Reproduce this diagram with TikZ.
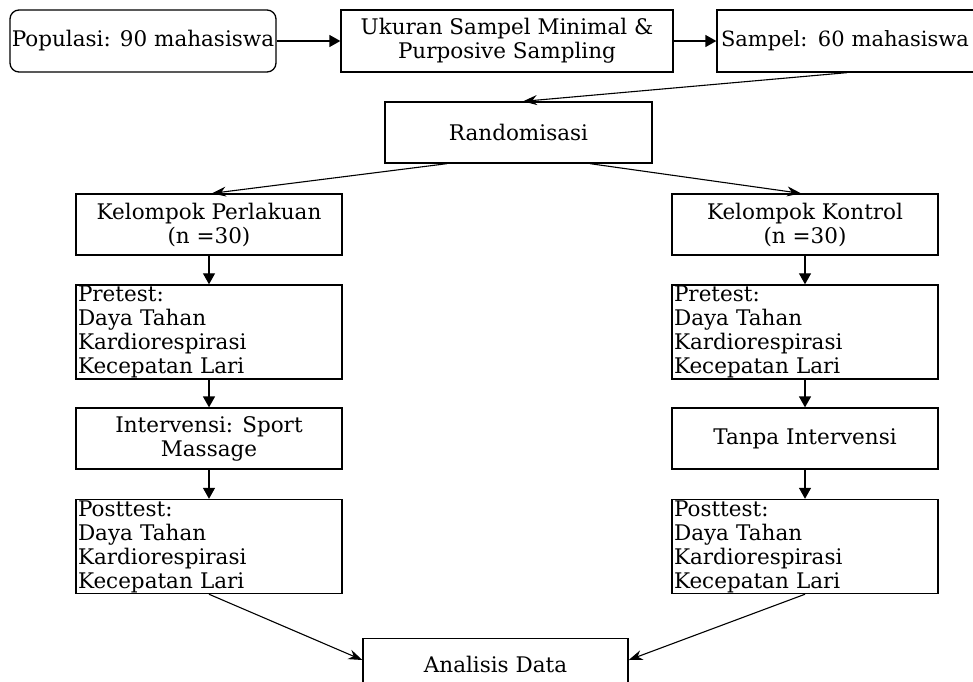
\documentclass[tikz,border=0pt]{standalone}
\usepackage{fontspec}
\setmainfont{DejaVu Serif}
\usetikzlibrary{arrows.meta,calc}
\begin{document}
\begin{tikzpicture}[x=1pt,y=-1pt,
  every node/.style={font=\fontsize{21.5}{24}\selectfont},
  box/.style={draw, line width=1.3pt, inner sep=1pt, align=center},
  lbox/.style={draw, line width=1.3pt, inner xsep=2pt, inner ysep=1pt, align=left, text width=262pt},
  arr/.style={line width=1.3pt, -{Triangle[length=11pt,width=12pt]}},
  darr/.style={line width=1.1pt, -{Stealth[length=14pt,width=10pt]}}
]
\useasboundingbox (0,0) rectangle (973,681);
\clip (0,0) rectangle (973,681);
\fill[white] (0,0) rectangle (973,681);

\node[box, rounded corners=9pt, minimum width=266pt, minimum height=62pt, inner sep=0pt] (pop) at (143,41) {Populasi: 90 mahasiswa};
\node[box, minimum width=332pt, minimum height=62pt] (uk) at (507,41) {Ukuran Sampel Minimal \&\\Purposive Sampling};
\node[box, minimum width=283pt, minimum height=62pt, text width=275pt, align=left, inner xsep=4pt, font=\fontsize{21}{24}\selectfont] (samp) at (858.5,41) {Sampel: 60 mahasiswa};

\node[box, minimum width=267pt, minimum height=61pt] (rand) at (518.5,132.5) {Randomisasi};

\node[box, minimum width=266pt, minimum height=61pt] (kp) at (209,224.5) {Kelompok Perlakuan\\(n =30)};
\node[box, minimum width=266pt, minimum height=61pt] (kk) at (805,224.5) {Kelompok Kontrol\\(n =30)};

\node[lbox, minimum height=92pt] (preL) at (209,332) {Pretest:\\Daya Tahan\\Kardiorespirasi\\Kecepatan Lari};
\node[lbox, minimum height=92pt] (preR) at (805,332) {Pretest:\\Daya Tahan\\Kardiorespirasi\\Kecepatan Lari};

\node[box, minimum width=266pt, minimum height=61pt] (intL) at (209,438.5) {Intervensi: Sport\\Massage};
\node[box, minimum width=266pt, minimum height=61pt] (intR) at (805,438.5) {Tanpa Intervensi};

\node[lbox, minimum height=91pt] (postL) at (209,546.5) {Posttest:\\Daya Tahan\\Kardiorespirasi\\Kecepatan Lari};
\node[lbox, minimum height=91pt] (postR) at (805,546.5) {Posttest:\\Daya Tahan\\Kardiorespirasi\\Kecepatan Lari};

\node[box, minimum width=265pt, minimum height=61pt, anchor=north] (ana) at (495.5,638) {\raisebox{10pt}{Analisis Data}};

\draw[arr] (pop.east) -- (uk.west);
\draw[arr] (uk.east) -- (samp.west);
\draw[darr] ([xshift=-11.5pt]samp.south) -- ([xshift=4.5pt]rand.north);
\draw[darr] ([xshift=-71.5pt]rand.south) -- ([xshift=3pt]kp.north);
\draw[darr] ([xshift=71.5pt]rand.south) -- ([xshift=-4pt]kk.north);
\draw[arr] (kp.south) -- (preL.north);
\draw[arr] (preL.south) -- (intL.north);
\draw[arr] (intL.south) -- (postL.north);
\draw[arr] (kk.south) -- (preR.north);
\draw[arr] (preR.south) -- (intR.north);
\draw[arr] (intR.south) -- (postR.north);
\draw[darr] (postL.south) -- ([yshift=-22pt]ana.north west);
\draw[darr] (postR.south) -- ([yshift=-22pt]ana.north east);
\end{tikzpicture}
\end{document}
